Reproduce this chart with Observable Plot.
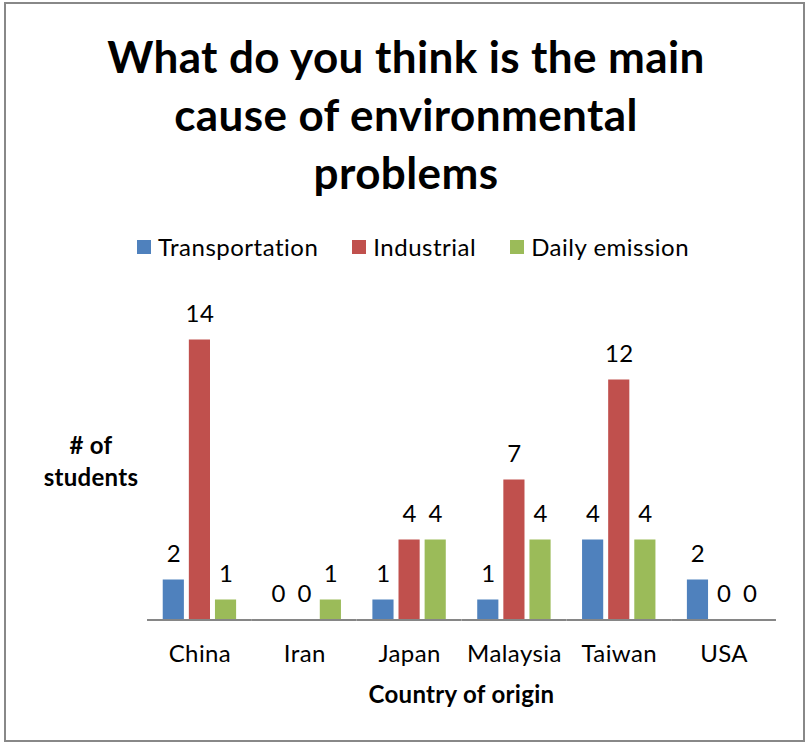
<!DOCTYPE html>
<html>
<head>
<meta charset="utf-8">
<script src="https://cdn.jsdelivr.net/npm/d3@7"></script>
<script src="https://cdn.jsdelivr.net/npm/@observablehq/plot@0.6"></script>
<style>
  html, body { margin: 0; padding: 0; background: #fff; }
  #page { position: relative; width: 807px; height: 744px; font-family: Lato, "Open Sans", sans-serif; color: #000; overflow: hidden; font-variant-ligatures: none; }
  #border { position: absolute; left: 4px; top: 2px; width: 801px; height: 740px; box-sizing: border-box; border: 2px solid #888; }
  #title { position: absolute; left: 0; top: 27px; width: 812px; text-align: center; font-weight: 700; font-size: 44px; letter-spacing: 0.4px; line-height: 58px; }
  #legend { position: absolute; left: 137px; top: 233px; display: flex; align-items: center; font-size: 24px; letter-spacing: 0.5px; line-height: 28px; }
  #legend .item { display: flex; align-items: center; margin-right: 34px; }
  #legend .sw { width: 14px; height: 14px; margin-right: 7px; }
  #ylabel { position: absolute; left: 31px; width: 120px; top: 429px; text-align: center; font-weight: 700; font-size: 24px; letter-spacing: 0.3px; line-height: 32px; }
  #xlabel { position: absolute; left: 147px; width: 629px; top: 680px; text-align: center; font-weight: 700; font-size: 24px; letter-spacing: 0.3px; line-height: 28px; }
  #chart { position: absolute; left: 0; top: 280px; }
</style>
</head>
<body>
<div id="page">
  <div id="border"></div>
  <div id="title">What do you think is the main<br>cause of environmental<br>problems</div>
  <div id="legend"></div>
  <div id="ylabel"># of<br>students</div>
  <div id="xlabel">Country of origin</div>
  <div id="chart"></div>
</div>
<script>
// Survey answers: number of students per country of origin
const countries = ["China", "Iran", "Japan", "Malaysia", "Taiwan", "USA"];
const causes = ["Transportation", "Industrial", "Daily emission"];
const transportation = [2, 0, 1, 1, 4, 2];
const industrial = [14, 0, 4, 7, 12, 0];
const dailyEmission = [1, 1, 4, 4, 4, 0];
const causeColors = ["#4F81BD", "#C0504D", "#9BBB59"];

const seriesValues = [transportation, industrial, dailyEmission];
const rows = [];
countries.forEach((country, i) => {
  causes.forEach((cause, j) => {
    rows.push({country, cause, value: seriesValues[j][i]});
  });
});

// Legend
const legend = document.getElementById("legend");
causes.forEach((cause, j) => {
  const item = document.createElement("div");
  item.className = "item";
  const sw = document.createElement("div");
  sw.className = "sw";
  sw.style.background = causeColors[j];
  const label = document.createElement("span");
  label.textContent = cause;
  item.append(sw, label);
  legend.append(item);
});

const chart = Plot.plot({
  width: 807,
  height: 464,
  marginTop: 19.5,
  marginBottom: 124.5,
  marginLeft: 147,
  marginRight: 31,
  style: {fontFamily: "Lato, 'Open Sans', sans-serif", color: "#000", background: "transparent", letterSpacing: "0.4px"},
  fx: {domain: countries, paddingInner: 0.3, paddingOuter: 0.15, round: false, label: null, axis: null},
  x: {domain: causes, paddingInner: 0.19, paddingOuter: 0, round: false, axis: null},
  y: {domain: [0, 16], axis: null},
  color: {domain: causes, range: causeColors},
  marks: [
    Plot.barY(rows, {fx: "country", x: "cause", y: "value", fill: "cause"}),
    Plot.ruleY([0], {stroke: "#868686", strokeWidth: 2, insetLeft: -15.7, insetRight: -15.7}),
    Plot.text(rows, {
      fx: "country", x: "cause", y: "value", text: (d) => String(d.value),
      lineAnchor: "bottom", dy: -18, fontSize: 24, fill: "#000"
    }),
    Plot.axisFx({anchor: "bottom", tickSize: 0, tickPadding: 25, fontSize: 24, label: null, color: "#000"})
  ]
});
document.getElementById("chart").append(chart);
</script>
</body>
</html>
